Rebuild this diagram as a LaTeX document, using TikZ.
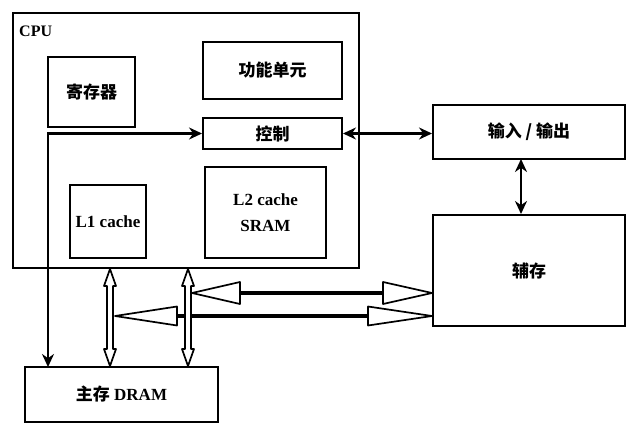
\documentclass[tikz,border=0pt]{standalone}
\usepackage{fontspec}
\setmainfont{Liberation Serif}
\newfontfamily\cjk{Noto Sans CJK SC}
\usetikzlibrary{arrows.meta,calc}
\begin{document}
\begin{tikzpicture}[x=1pt,y=-1pt,
  box/.style={draw, line width=2pt, inner sep=0pt, align=center,
    font=\fontsize{17}{26}\selectfont\bfseries},
  link/.style={line width=2.2pt, {Stealth[length=13pt,width=12pt]}-{Stealth[length=13pt,width=12pt]}},
  hollow/.style={draw, fill=white, line width=1.7pt, line join=round},
  shaft/.style={line width=3.5pt}
]
\useasboundingbox (0,0) rectangle (634,430);

% processor and its units
\node[box, minimum width=346, minimum height=255] (cpu) at (186,140.5) {};
\node[font=\fontsize{16}{18}\selectfont\bfseries, anchor=west, inner sep=0pt] (cpulabel) at (19,31) {CPU};
\node[box, minimum width=87, minimum height=70] (reg) at (91.5,92) {\cjk 寄存器};
\node[box, minimum width=139, minimum height=57] (fu) at (272.5,70.5) {\cjk 功能单元};
\node[box, minimum width=139, minimum height=31] (ctrl) at (272.5,133.5) {\cjk 控制};
\node[box, minimum width=76, minimum height=73] (l1) at (108,221.5) {L1 cache};
\node[box, minimum width=121, minimum height=91] (l2) at (265.5,212.5) {L2 cache\\SRAM};

% memories and I/O
\node[box, minimum width=193, minimum height=55] (main) at (121.5,394.5) {{\cjk 主存} DRAM};
\node[box, minimum width=192, minimum height=54] (io) at (529,132) {\cjk 输入 / 输出};
\node[box, minimum width=192, minimum height=111] (aux) at (529,270.5) {\cjk 辅存};

% control paths
\coordinate (mtop) at (48,367);
\draw[link] (ctrl.west) -| (mtop);
\draw[link] (ctrl.east) -- (ctrl.east -| io.west);
\coordinate (iob) at (521,159);
\draw[link] (iob) -- (iob |- aux.north);

% shafts of the wide transfer paths to secondary storage
\draw[shaft] (240,293) -- (383,293);
\draw[shaft] (177,316) -- (368,316);

% vertical buses between CPU and main memory
\foreach \c in {110,188}{
  \draw[hollow] (\c,269) -- (\c+6,286) -- (\c+3,286) -- (\c+3,349)
    -- (\c+6,349) -- (\c,366) -- (\c-6,349) -- (\c-3,349)
    -- (\c-3,286) -- (\c-6,286) -- cycle;
}

% arrowheads of the transfer paths
\draw[hollow] (192,293) -- (240,282) -- (240,304) -- cycle;
\draw[hollow] (432,293) -- (383,282) -- (383,304) -- cycle;
\draw[hollow] (115,316) -- (177,306.5) -- (177,325.5) -- cycle;
\draw[hollow] (432,316) -- (368,306.5) -- (368,325.5) -- cycle;
\end{tikzpicture}
\end{document}
